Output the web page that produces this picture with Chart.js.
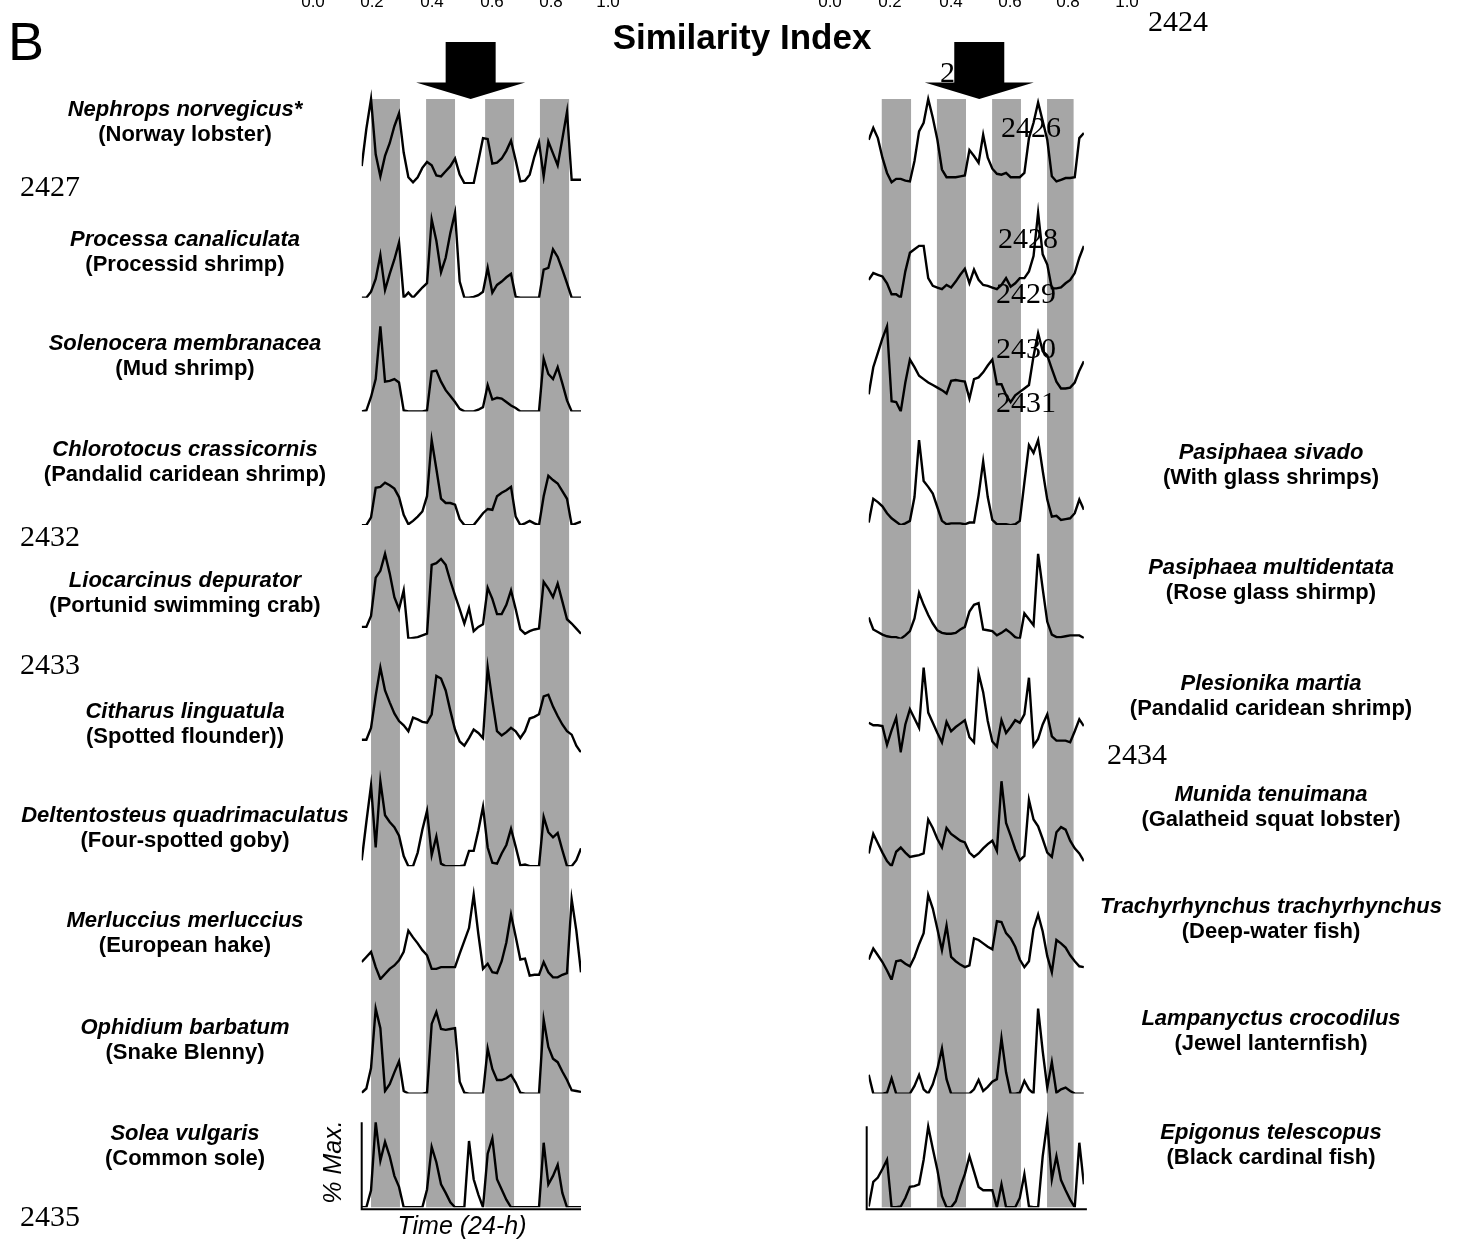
<!DOCTYPE html>
<html>
<head>
<meta charset="utf-8">
<title>Species activity rhythms</title>
<script src="https://cdn.jsdelivr.net/npm/chart.js@4.4.1/dist/chart.umd.min.js"></script>
<style>
  html, body { margin: 0; padding: 0; background: #fff; }
  #wrap { position: relative; width: 1459px; height: 1244px; overflow: hidden;
          font-family: "Liberation Sans", Arial, sans-serif; color: #000; }
  #wrap canvas { position: absolute; left: 0; top: 0; }
  .t { position: absolute; white-space: nowrap; line-height: 1; }
  .tick { position: absolute; top: -8px; font-size: 17px; transform: translateX(-50%); }
</style>
</head>
<body>
<div id="wrap">
  <canvas id="leftPanel" width="1459" height="1244"></canvas>
  <canvas id="rightPanel" width="1459" height="1244"></canvas>
  <div class="t" style="left:8px;top:14px;font-size:54px;">B</div>
  <div class="t" style="left:742px;top:19px;font-size:35px;font-weight:bold;transform:translateX(-50%);">Similarity Index</div>
  <div id="ticks"></div>
</div>
<script>
// Sampling times (hours from start of the 4-day record)
const hours = [0,2,4,6,8,10,12,14,16,18,20,22,24,26,28,30,32,34,36,38,40,42,44,46,
               48,50,52,54,56,58,60,62,64,66,68,70,72,74,76,78,80,82,84,86,88,90,92,94];

// Night periods (hours) for each column of panels
const leftNights  = [[4.0, 16.4], [27.6, 40.0], [52.9, 65.3], [76.4, 88.9]];
const rightNights = [[5.7, 18.5], [29.8, 42.5], [53.9, 66.5], [77.9, 89.5]];

// Similarity index tick labels
const simTicks = ['0.0', '0.2', '0.4', '0.6', '0.8', '1.0'];

// Catch rhythms, % of maximum per sample — left column
const nephrops      = [21,65,100,35,9,33,48,68,83,37,8,2,8,19,26,22,10,9,15,21,30,11,1,1,1,27,54,53,24,25,30,39,51,28,3,4,11,32,49,9,50,36,22,53,85,5,5,5];
const processa      = [0,0,7,22,50,9,28,45,65,0,6,0,6,12,17,92,67,30,47,76,100,19,0,0,1,3,7,35,6,15,19,24,28,1,0,0,0,0,0,33,35,57,48,33,17,0,0,0];
const solenocera    = [0,1,17,38,100,35,36,38,34,1,0,0,0,0,1,47,48,35,25,18,11,3,0,0,0,2,5,31,14,16,15,11,7,4,0,0,0,0,0,62,44,38,52,33,13,0,0,0];
const chlorotocus   = [0,0,9,44,45,50,47,43,33,12,1,5,10,16,34,100,66,31,26,26,24,7,0,0,0,7,14,19,18,34,38,41,45,10,0,2,5,2,0,34,58,53,49,40,31,0,2,4];
const liocarcinus   = [14,14,27,72,80,100,77,49,35,57,0,1,2,4,6,87,89,94,87,68,51,35,18,36,9,14,17,60,47,29,29,40,57,35,11,6,9,11,12,67,59,49,65,44,23,18,12,6];
const citharus      = [15,15,29,67,100,73,59,46,37,32,25,41,39,36,35,45,90,87,73,49,27,13,8,17,27,23,17,100,61,25,20,24,29,25,17,25,40,42,45,66,68,54,43,33,25,21,8,0];
const deltentosteus = [7,52,95,22,100,60,52,46,36,12,0,0,16,43,65,13,35,3,0,0,0,0,1,18,18,42,70,22,4,3,15,25,44,23,1,2,0,0,0,58,40,34,39,19,0,0,7,21];
const merluccius    = [21,27,33,15,1,7,13,17,23,33,58,50,43,35,29,13,13,15,15,15,15,31,46,61,100,54,13,19,9,8,22,44,77,51,24,25,5,6,6,21,9,3,3,6,8,95,58,9];
const ophidium      = [1,6,30,100,77,3,11,25,38,3,0,0,0,0,1,82,96,76,75,76,77,14,1,0,0,0,0,53,29,16,16,18,22,13,1,0,0,0,0,87,55,41,37,26,16,4,3,2];
const solea         = [0,0,20,100,55,77,60,37,24,0,0,0,0,0,21,71,53,27,17,6,0,0,0,78,33,15,0,63,81,33,21,9,0,0,0,0,0,0,0,76,27,37,50,17,0,0,0,0];

// Right column
const rightRow1     = [52,66,54,31,13,2,6,6,4,3,27,62,72,100,78,52,17,8,8,8,9,10,40,33,25,58,31,18,12,11,13,8,8,8,13,54,72,96,74,52,9,3,5,7,7,8,54,60];
const rightRow2     = [21,29,27,25,17,4,4,0,31,53,57,61,61,23,14,12,10,15,12,19,27,34,17,33,21,15,14,12,10,15,23,13,17,23,23,31,49,100,51,39,11,11,12,17,21,29,47,61];
const rightRow3     = [20,52,69,86,100,12,11,0,34,61,52,42,38,34,31,28,25,21,36,37,36,35,15,38,40,46,54,61,32,32,19,11,19,23,27,31,65,92,71,66,50,35,27,27,28,34,48,59];
const pasiphaeaSivado = [3,31,27,22,14,8,4,0,2,5,33,100,52,45,37,21,5,1,2,2,2,1,3,3,35,75,33,6,1,1,1,0,1,5,50,94,85,100,64,30,10,11,6,7,8,14,30,18];
const pasiphaeaMulti  = [25,11,8,5,3,2,2,0,4,9,24,54,40,28,18,10,7,6,6,7,11,14,32,40,42,11,10,9,4,7,11,7,2,0,30,23,16,100,59,20,5,2,2,3,4,4,4,1];
const plesionika      = [35,32,32,31,9,26,41,1,33,51,40,29,100,47,35,23,12,36,25,30,34,38,18,12,93,71,37,13,7,38,23,30,38,35,45,88,8,16,33,45,19,14,14,14,12,25,39,31];
const munida          = [15,38,27,16,6,0,17,22,16,11,12,13,15,55,45,32,22,45,38,34,30,28,16,11,15,21,26,30,18,100,51,36,20,7,12,78,55,47,32,16,11,40,46,43,30,21,15,6];
const trachyrhynchus  = [24,37,29,21,11,0,22,23,19,16,27,42,55,100,84,60,35,64,27,22,18,15,17,49,47,43,39,36,69,68,55,49,39,24,15,22,60,77,57,28,9,47,43,38,29,22,16,15];
const lampanyctus     = [22,0,0,0,1,18,0,0,0,0,9,22,5,0,11,29,53,17,0,0,0,0,0,5,16,3,8,14,17,65,25,0,0,1,15,5,0,100,50,7,37,1,5,7,3,0,0,0];
const epigonus        = [1,30,35,45,56,0,0,1,11,24,25,27,56,95,69,44,13,0,0,7,24,39,60,42,24,20,20,20,0,27,0,0,0,11,39,1,0,0,60,100,33,60,32,20,9,0,76,27];

// Species names (scientific, common)
const leftNames = [
  ['Nephrops norvegicus*', '(Norway lobster)'],
  ['Processa canaliculata', '(Processid shrimp)'],
  ['Solenocera membranacea', '(Mud shrimp)'],
  ['Chlorotocus crassicornis', '(Pandalid caridean shrimp)'],
  ['Liocarcinus depurator', '(Portunid swimming crab)'],
  ['Citharus linguatula', '(Spotted flounder))'],
  ['Deltentosteus quadrimaculatus', '(Four-spotted goby)'],
  ['Merluccius merluccius', '(European hake)'],
  ['Ophidium barbatum', '(Snake Blenny)'],
  ['Solea vulgaris', '(Common sole)']
];
const rightNames = [
  null, null, null,
  ['Pasiphaea sivado', '(With glass shrimps)'],
  ['Pasiphaea multidentata', '(Rose glass shirmp)'],
  ['Plesionika martia', '(Pandalid caridean shrimp)'],
  ['Munida tenuimana', '(Galatheid squat lobster)'],
  ['Trachyrhynchus trachyrhynchus', '(Deep-water fish)'],
  ['Lampanyctus crocodilus', '(Jewel lanternfish)'],
  ['Epigonus telescopus', '(Black cardinal fish)']
];

const leftSeries  = [nephrops, processa, solenocera, chlorotocus, liocarcinus,
                     citharus, deltentosteus, merluccius, ophidium, solea];
const rightSeries = [rightRow1, rightRow2, rightRow3, pasiphaeaSivado, pasiphaeaMulti,
                     plesionika, munida, trachyrhynchus, lampanyctus, epigonus];

// ---- layout / style constants ----
const BAND = '#a6a6a6';
const ROW_MAX = 133.8;                 // headroom above 100 % between stacked rows
const LABEL_FONT_1 = 'italic bold 22px "Liberation Sans", Arial, sans-serif';
const LABEL_FONT_2 = 'bold 22px "Liberation Sans", Arial, sans-serif';
const NUM_FONT = '30px "Liberation Serif", "Times New Roman", serif';

const leftLabelY  = [110, 240, 344, 450, 581, 712, 816, 921, 1028, 1134];
const rightLabelY = [null, null, null, 453, 568, 684, 795, 907, 1019, 1133];

const leftMarginNumbers  = [['2427', 20, 196], ['2432', 20, 546], ['2433', 20, 674], ['2435', 20, 1226]];
const rightMarginNumbers = [['2424', 1148, 31], ['2425', 940, 82], ['2426', 1001, 137], ['2428', 998, 248],
                            ['2429', 996, 303], ['2430', 996, 358], ['2431', 996, 412], ['2434', 1107, 764]];

// Draws night bands, species labels, the last-row axes, margin numbers and the arrow
const panelPlugin = {
  id: 'panel',
  beforeDatasetsDraw(chart, args, o) {
    const ctx = chart.ctx, xs = chart.scales.x;
    const top = chart.scales.y0.getPixelForValue(100);
    const bottom = chart.scales['y' + (o.rows - 1)].getPixelForValue(0);
    ctx.save();
    ctx.fillStyle = BAND;
    o.nights.forEach(([a, b]) => {
      const x0 = xs.getPixelForValue(a), x1 = xs.getPixelForValue(b);
      ctx.fillRect(x0, top, x1 - x0, bottom - top);
    });
    ctx.restore();
  },
  afterDatasetsDraw(chart, args, o) {
    const ctx = chart.ctx, area = chart.chartArea;
    const last = chart.scales['y' + (o.rows - 1)];
    ctx.save();
    // axes of the bottom panel
    ctx.strokeStyle = '#000';
    ctx.lineWidth = 2;
    const ax = area.left + o.axisShift[0];
    const ay = last.getPixelForValue(0) + 2;
    ctx.beginPath();
    ctx.moveTo(ax, last.getPixelForValue(100) + o.axisShift[2]);
    ctx.lineTo(ax, ay);
    ctx.lineTo(area.right + o.axisShift[1], ay);
    ctx.stroke();

    // species labels
    ctx.fillStyle = '#000';
    ctx.textAlign = 'center';
    ctx.textBaseline = 'middle';
    o.names.forEach((n, i) => {
      if (!n) return;
      ctx.font = LABEL_FONT_1;
      ctx.fillText(n[0], o.labelX, o.labelY[i]);
      ctx.font = LABEL_FONT_2;
      ctx.fillText(n[1], o.labelX, o.labelY[i] + 25);
    });

    // axis titles
    if (o.axisTitles) {
      ctx.font = 'italic 25px "Liberation Sans", Arial, sans-serif';
      ctx.fillText('Time (24-h)', 462, 1227);
      ctx.save();
      ctx.translate(334, 1162);
      ctx.rotate(-Math.PI / 2);
      ctx.fillText('% Max.', 0, 0);
      ctx.restore();
    }

    // margin line numbers
    ctx.font = NUM_FONT;
    ctx.textAlign = 'left';
    ctx.textBaseline = 'alphabetic';
    o.numbers.forEach(([s, x, y]) => ctx.fillText(s, x, y));
    ctx.restore();
  },
  afterDraw(chart, args, o) {
    const ctx = chart.ctx;
    const tipX = chart.scales.x.getPixelForValue(o.arrowAt);
    const tipY = chart.scales.y0.getPixelForValue(100);
    ctx.save();
    ctx.fillStyle = '#000';
    ctx.beginPath();
    ctx.moveTo(tipX - 25, tipY - 57);
    ctx.lineTo(tipX + 25, tipY - 57);
    ctx.lineTo(tipX + 25, tipY - 16.5);
    ctx.lineTo(tipX + 54.5, tipY - 16.5);
    ctx.lineTo(tipX, tipY);
    ctx.lineTo(tipX - 54.5, tipY - 16.5);
    ctx.lineTo(tipX - 25, tipY - 16.5);
    ctx.closePath();
    ctx.fill();
    ctx.restore();
  }
};

function buildColumn(canvasId, series, opts) {
  const scales = { x: { type: 'linear', min: 0, max: 94, display: false } };
  series.forEach((s, i) => {
    scales['y' + i] = { type: 'linear', position: 'right', stack: 'rows', stackWeight: 1,
                        min: 0, max: ROW_MAX, display: false };
  });
  const datasets = series.map((s, i) => ({
    data: hours.map((h, k) => ({ x: h, y: s[k] })),
    xAxisID: 'x',
    yAxisID: 'y' + i,
    borderColor: '#000',
    borderWidth: 2.4,
    pointRadius: 0,
    tension: 0,
    fill: false
  }));
  return new Chart(document.getElementById(canvasId), {
    type: 'line',
    data: { datasets },
    options: {
      responsive: false,
      animation: false,
      devicePixelRatio: 1,
      layout: { padding: opts.padding },
      plugins: {
        legend: { display: false },
        tooltip: { enabled: false },
        panel: Object.assign({ rows: series.length }, opts.panel)
      },
      scales
    },
    plugins: [panelPlugin]
  });
}

buildColumn('leftPanel', leftSeries, {
  padding: { left: 361.7, right: 1459 - 581, top: 70.3, bottom: 1244 - 1207.3 },
  panel: { nights: leftNights, names: leftNames, labelX: 185, labelY: leftLabelY,
           numbers: leftMarginNumbers, arrowAt: 46.7, axisShift: [0, 0, 0], axisTitles: true }
});
buildColumn('rightPanel', rightSeries, {
  padding: { left: 868.7, right: 1459 - 1083.9, top: 70.3, bottom: 1244 - 1207.3 },
  panel: { nights: rightNights, names: rightNames, labelX: 1271, labelY: rightLabelY,
           numbers: rightMarginNumbers, arrowAt: 48.3, axisShift: [-2, 3, 4], axisTitles: false }
});

// Similarity-index tick labels along the top edge
const tickX = { left: [313, 372, 432, 492, 551, 608], right: [830, 890, 951, 1010, 1068, 1127] };
const tickBox = document.getElementById('ticks');
['left', 'right'].forEach(side => {
  simTicks.forEach((t, i) => {
    const d = document.createElement('div');
    d.className = 'tick';
    d.style.left = tickX[side][i] + 'px';
    d.textContent = t;
    tickBox.appendChild(d);
  });
});
</script>
</body>
</html>
